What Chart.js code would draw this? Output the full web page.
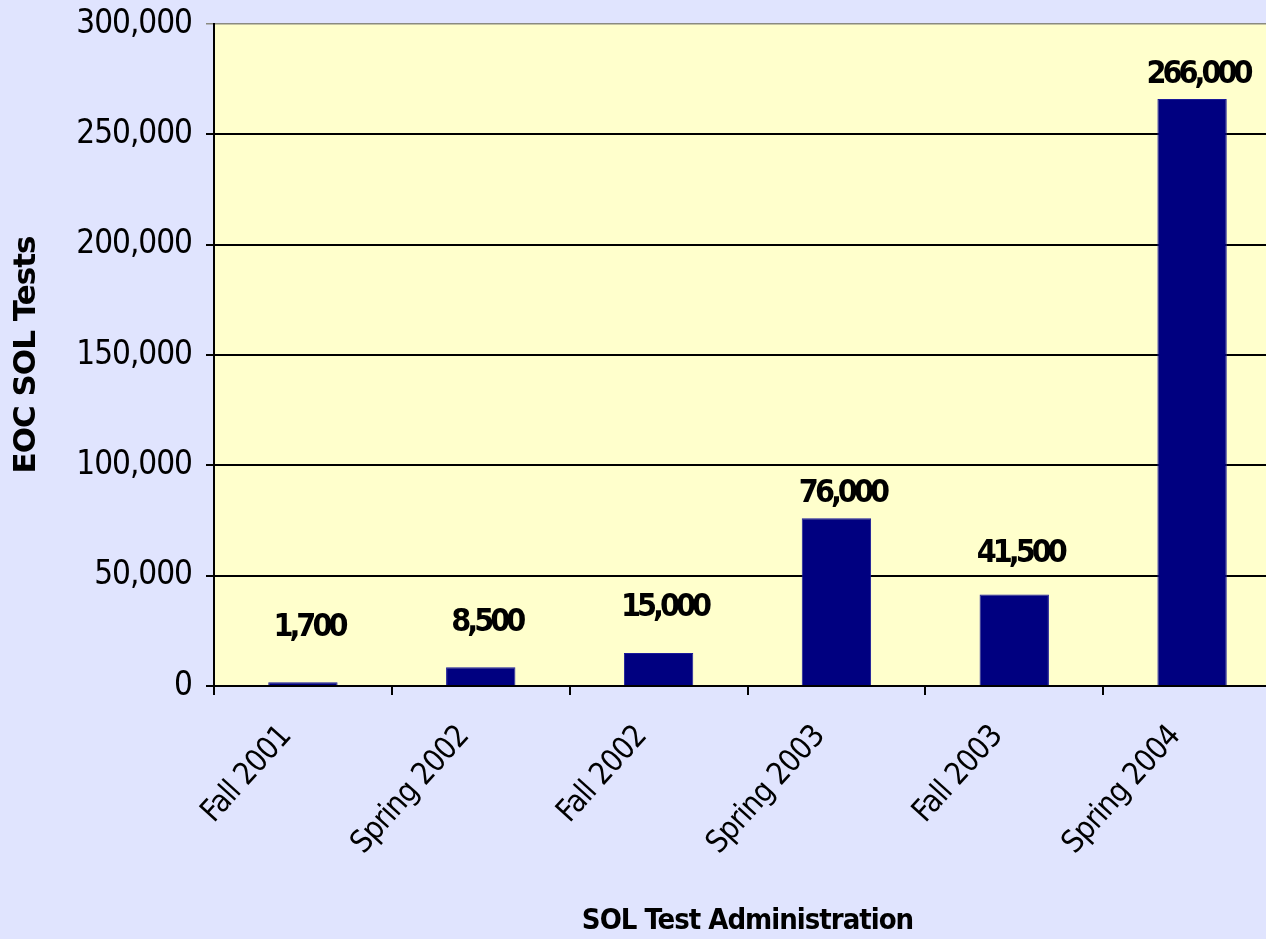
<!DOCTYPE html>
<html>
<head>
<meta charset="utf-8">
<script src="https://cdn.jsdelivr.net/npm/chart.js@4/dist/chart.umd.min.js"></script>
<style>
  html, body { margin: 0; padding: 0; background: #E0E4FE; overflow: hidden; width: 1266px; height: 939px; }
  #wrap { position: absolute; left: 0; top: 0; width: 1281px; height: 939px; }
</style>
</head>
<body>
<div id="wrap"><canvas id="c" width="1281" height="939"></canvas></div>
<script>
const categories = ['Fall 2001', 'Spring 2002', 'Fall 2002', 'Spring 2003', 'Fall 2003', 'Spring 2004'];
const testCounts = [1700, 8500, 15000, 76000, 41500, 266000];
const yTicks = [0, 50000, 100000, 150000, 200000, 250000, 300000];

const NARROW = "'Liberation Sans Narrow', 'DejaVu Sans Condensed', 'Liberation Sans', sans-serif";
const labelLift = [55, 45, 45, 25, 41, 24];

const plotBg = {
  id: 'plotBg',
  beforeDraw(chart) {
    const { ctx, chartArea: a } = chart;
    ctx.save();
    ctx.fillStyle = '#FFFFCC';
    ctx.fillRect(a.left, a.top, a.right - a.left, a.bottom - a.top);
    ctx.restore();
  }
};

const valueLabels = {
  id: 'valueLabels',
  afterDatasetsDraw(chart) {
    const { ctx } = chart;
    const meta = chart.getDatasetMeta(0);
    ctx.save();
    ctx.font = "bold 32px " + NARROW;
    ctx.letterSpacing = '-4px';
    ctx.fillStyle = '#000';
    ctx.textAlign = 'center';
    ctx.textBaseline = 'middle';
    meta.data.forEach((bar, i) => {
      const v = chart.data.datasets[0].data[i];
      ctx.fillText(v.toLocaleString('en-US'), bar.x + 6, bar.y - labelLift[i]);
    });
    ctx.restore();
  }
};

new Chart(document.getElementById('c'), {
  type: 'bar',
  data: {
    labels: categories,
    datasets: [{
      data: testCounts,
      backgroundColor: '#000080',
      borderColor: '#1a1a9a',
      borderWidth: 1,
      barPercentage: 0.78,
      categoryPercentage: 0.5
    }]
  },
  options: {
    responsive: false,
    animation: false,
    layout: { padding: { top: 24, left: 0, right: 0, bottom: 0 } },
    plugins: { legend: { display: false }, tooltip: { enabled: false } },
    scales: {
      x: {
        grid: { display: true, drawOnChartArea: false, drawTicks: true, tickLength: 9, color: '#000', lineWidth: 2, offset: true },
        border: { display: true, color: '#000', width: 2 },
        ticks: {
          color: '#000',
          font: { family: NARROW, size: 31 },
          maxRotation: 48, minRotation: 48,
          padding: 24,
          labelOffset: -17,
          autoSkip: false
        },
        title: {
          display: true,
          text: 'SOL Test Administration',
          color: '#000',
          font: { family: NARROW, size: 29, weight: 'bold' },
          padding: { top: 0, bottom: 0 }
        },
        afterFit(scale) { scale.height = 939 - 686; scale.paddingLeft = 0; scale.paddingRight = 0; }
      },
      y: {
        min: 0, max: 300000,
        afterBuildTicks(scale) { scale.ticks = yTicks.map(v => ({ value: v })); },
        grid: {
          color: ctx => (ctx.tick && ctx.tick.value === 300000) ? '#8a8a80' : '#000',
          lineWidth: ctx => (ctx.tick && ctx.tick.value === 300000) ? 1.5 : 2,
          tickLength: 8
        },
        border: { display: true, color: '#000', width: 2 },
        ticks: {
          color: '#000',
          font: { family: NARROW, size: 33 },
          padding: 14,
          callback: v => v.toLocaleString('en-US')
        },
        title: {
          display: true,
          text: 'EOC SOL Tests',
          color: '#000',
          font: { family: "'DejaVu Sans', sans-serif", size: 31, weight: 'bold' },
          padding: { top: 8, bottom: 0 }
        },
        afterFit(scale) { scale.width = 214; scale.paddingTop = 0; scale.paddingBottom = 0; }
      }
    }
  },
  plugins: [
    { id: 'spacing', beforeDraw(chart) { chart.ctx.letterSpacing = '-1px'; } },
    plotBg, valueLabels
  ]
});
</script>
</body>
</html>
